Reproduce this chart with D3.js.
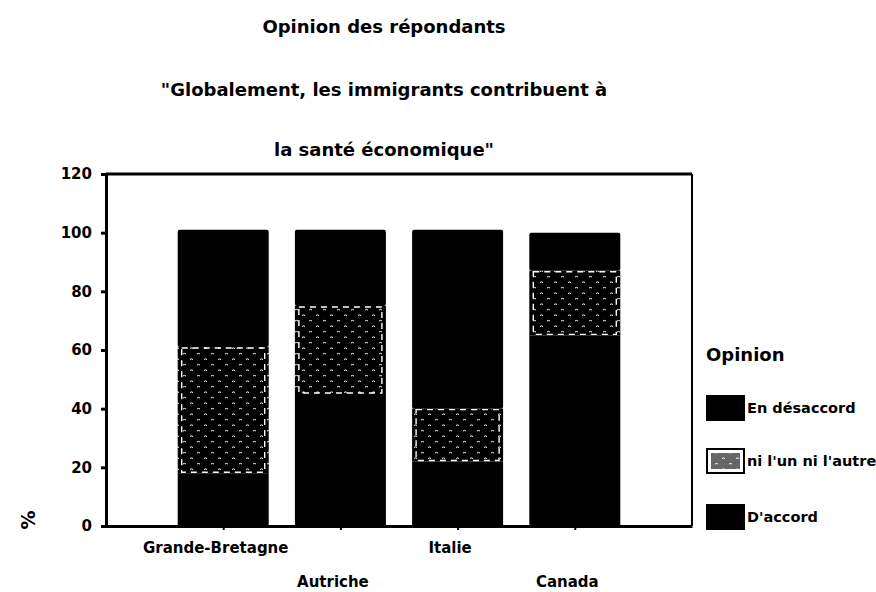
<!DOCTYPE html>
<html><head><meta charset="utf-8">
<script src="https://cdn.jsdelivr.net/npm/d3@7"></script>
<style>
body{margin:0;background:#fff;}
text{font-family:"DejaVu Sans",Arial,sans-serif;font-weight:bold;fill:#000;}
</style>
</head><body>
<svg id="c" width="876" height="592"></svg>
<script>
// ---- data ----
const categories = ["Grande-Bretagne", "Autriche", "Italie", "Canada"];
const accord     = [18, 45, 22, 65];   // D'accord
const neutre     = [43, 30, 18, 22];   // ni l'un ni l'autre
const desaccord  = [40, 26, 61, 13];   // En désaccord
const yTicks     = [0, 20, 40, 60, 80, 100, 120];
const seriesKeys = ["accord", "neutre", "desaccord"];
const seriesLabels = {accord: "D'accord", neutre: "ni l'un ni l'autre", desaccord: "En désaccord"};
const titleLines = ["Opinion des répondants", "\"Globalement, les immigrants contribuent à", "la santé économique\""];
const legendTitle = "Opinion";
const yLabel = "%";

const rows = categories.map((c, i) => ({cat: c, accord: accord[i], neutre: neutre[i], desaccord: desaccord[i]}));

const svg = d3.select("#c");
const L = 106, R = 692, T = 174, B = 526;

const x = d3.scalePoint().domain(categories).range([L, R]).padding(1);
const y = d3.scaleLinear().domain([0, 120]).range([B, T]);
const barW = 91;

// pattern
const defs = svg.append("defs");
const pat = defs.append("pattern").attr("id", "speck").attr("patternUnits", "userSpaceOnUse")
  .attr("width", 14).attr("height", 11);
pat.append("rect").attr("width", 14).attr("height", 11).attr("fill", "#000");
pat.append("path").attr("d", "M1 2 q1.5 -1.2 3 0 M8 7.5 q1.5 -1.2 3 0")
  .attr("stroke", "#fff").attr("stroke-width", 1).attr("fill", "none");

// titles
const titleY = [33, 96, 156];
svg.selectAll("text.title").data(titleLines).join("text")
  .attr("class", "title").attr("x", 384).attr("y", (d, i) => titleY[i])
  .attr("text-anchor", "middle").style("font-size", "18px").text(d => d);

// stacked bars
const stack = d3.stack().keys(seriesKeys)(rows);
const fills = {accord: "#000", neutre: "url(#speck)", desaccord: "#000"};
stack.forEach(s => {
  svg.append("g").selectAll("rect").data(s).join("rect")
    .attr("x", d => x(d.data.cat) - barW / 2)
    .attr("y", d => y(d[1]))
    .attr("width", barW)
    .attr("height", d => y(d[0]) - y(d[1]))
    .attr("rx", s.key === "desaccord" ? 2 : 0)
    .attr("fill", fills[s.key]);
  if (s.key === "neutre") {
    svg.append("g").selectAll("rect").data(s).join("rect")
      .attr("x", d => x(d.data.cat) - barW / 2 + 4)
      .attr("y", d => y(d[1]) + 1)
      .attr("width", barW - 8)
      .attr("height", d => y(d[0]) - y(d[1]) - 2)
      .attr("fill", "none").attr("stroke", "#fff")
      .attr("stroke-width", 1.4).attr("stroke-dasharray", "6,5");
  }
});

// frame
svg.append("line").attr("x1", L).attr("x2", R).attr("y1", T).attr("y2", T).attr("stroke", "#000").attr("stroke-width", 3);
svg.append("line").attr("x1", R).attr("x2", R).attr("y1", T).attr("y2", B).attr("stroke", "#000").attr("stroke-width", 2);

// y axis
const yAxis = svg.append("g").attr("transform", `translate(${L},0)`)
  .call(d3.axisLeft(y).tickValues(yTicks).tickSize(5).tickPadding(9));
yAxis.select(".domain").attr("stroke-width", 3);
yAxis.selectAll(".tick line").attr("stroke-width", 3);
yAxis.selectAll("text").style("font-size", "15px").attr("font-family", null);

// x axis
const xAxis = svg.append("g").attr("transform", `translate(0,${B})`)
  .call(d3.axisBottom(x).tickSize(4).tickPadding(4).tickSizeOuter(0));
xAxis.select(".domain").attr("stroke-width", 3);
xAxis.selectAll(".tick line").attr("stroke-width", 2);
xAxis.selectAll("text").style("font-size", "15px").attr("font-family", null)
  .attr("dx", -8)
  .attr("y", (d, i) => i % 2 ? 50 : 16);

// y label
svg.append("text").attr("transform", "translate(35,520) rotate(-90)")
  .attr("text-anchor", "middle").style("font-size", "19px").text(yLabel);

// legend
svg.append("text").attr("x", 706).attr("y", 361).style("font-size", "18px").text(legendTitle);
const legendOrder = ["desaccord", "neutre", "accord"];
const legY = [396, 449, 505];
legendOrder.forEach((k, i) => {
  svg.append("rect").attr("x", 707).attr("y", legY[i]).attr("width", 37).attr("height", 24)
    .attr("fill", k === "neutre" ? "#fff" : "#000").attr("stroke", "#000").attr("stroke-width", 2);
  if (k === "neutre") {
    svg.append("rect").attr("x", 711).attr("y", legY[i] + 4).attr("width", 29).attr("height", 16)
      .attr("fill", "url(#speck)").attr("opacity", 0.6);
  }
  svg.append("text").attr("x", 747).attr("y", legY[i] + 17).style("font-size", "14.5px")
    .text(seriesLabels[k]);
});
</script>
</body></html>
